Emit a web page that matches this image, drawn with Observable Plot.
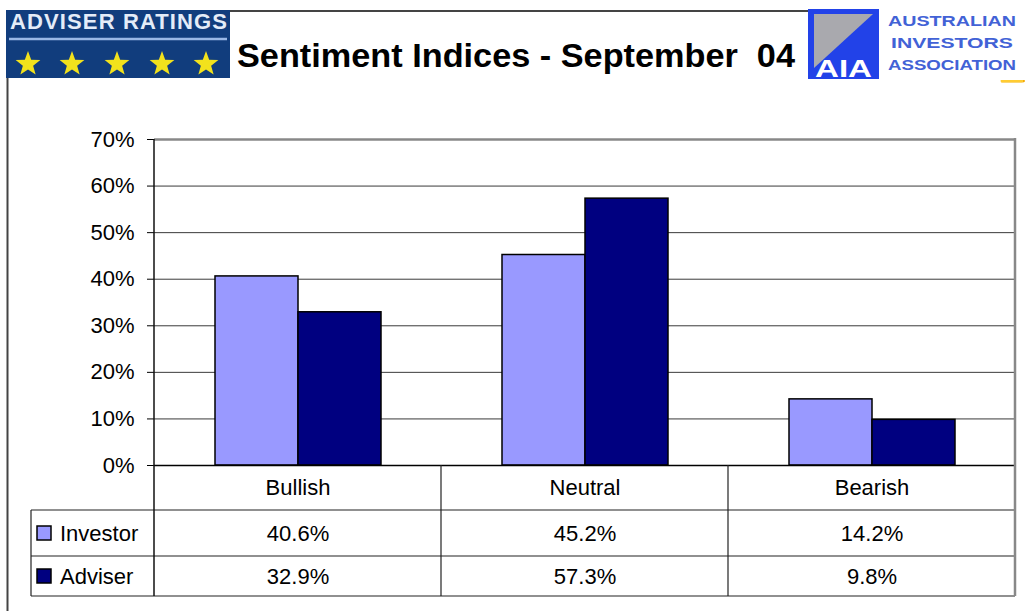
<!DOCTYPE html>
<html><head><meta charset="utf-8">
<script src="https://cdn.jsdelivr.net/npm/d3@7"></script>
<script src="https://cdn.jsdelivr.net/npm/@observablehq/plot@0.6"></script>
<style>
html,body{margin:0;padding:0;background:#fff;}
#wrap{position:relative;width:1026px;height:611px;font-family:"Liberation Sans",Arial,sans-serif;}
#chart{position:absolute;left:0;top:80px;}
#deco{position:absolute;left:0;top:0;pointer-events:none;}
</style></head>
<body><div id="wrap"><div id="chart"></div><svg id="deco" width="1026" height="611"></svg></div>
<script>
const categories = ["Bullish", "Neutral", "Bearish"];
const seriesNames = ["Investor", "Adviser"];
const investorValues = [0.406, 0.452, 0.142];
const adviserValues = [0.329, 0.573, 0.098];
const yTicks = [0, 0.1, 0.2, 0.3, 0.4, 0.5, 0.6, 0.7];
const seriesColors = ["#9999ff", "#000080"];
const titleText = "Sentiment Indices - September\u00a0 04";
const logoLeftText = "ADVISER RATINGS";
const logoRightLines = ["AUSTRALIAN", "INVESTORS", "ASSOCIATION"];
const logoMark = "AIA";

const rows = categories.flatMap((c, i) => [
  {category: c, series: seriesNames[0], value: investorValues[i]},
  {category: c, series: seriesNames[1], value: adviserValues[i]}
]);

const fmt = d3.format(".1%");
const TOP = 80;
const plot = Plot.plot({
  width: 1026, height: 531,
  marginLeft: 153, marginRight: 11, marginTop: 59, marginBottom: 146,
  style: {fontFamily: "Liberation Sans, Arial, sans-serif", fontSize: "22px", background: "transparent", color: "#000"},
  facet: {data: rows, x: "category"},
  fx: {domain: categories, padding: 0, axis: null, label: null},
  x: {domain: seriesNames, paddingInner: 0, paddingOuter: 0.71, axis: null},
  y: {domain: [0, 0.7], ticks: yTicks, tickFormat: d3.format(".0%"), tickSize: 7, tickPadding: 13, label: null},
  color: {domain: seriesNames, range: seriesColors},
  marks: [
    Plot.ruleY(yTicks.slice(1, -1), {stroke: "#3a3a3a", strokeWidth: 1}),
    Plot.barY(rows, {x: "series", y: "value", fill: "series", stroke: "#000", strokeWidth: 1.5}),
    Plot.ruleY([0], {stroke: "#000", strokeWidth: 1.5}),
    Plot.ruleY([0.7], {stroke: "#888", strokeWidth: 2.5}),
    Plot.text(rows, {filter: d => d.series === seriesNames[0], text: "category", frameAnchor: "bottom", lineAnchor: "middle", dy: 22}),
    Plot.text(rows, {filter: d => d.series === seriesNames[0], text: d => fmt(d.value), frameAnchor: "bottom", lineAnchor: "middle", dy: 68}),
    Plot.text(rows, {filter: d => d.series === seriesNames[1], text: d => fmt(d.value), frameAnchor: "bottom", lineAnchor: "middle", dy: 111})
  ]
});
document.getElementById("chart").appendChild(plot);

// structural lines, legend and header
const deco = d3.select("#deco");
const fx = plot.scale("fx"), ys = plot.scale("y");
const yTop = TOP + ys.apply(0.7), yBase = TOP + ys.apply(0);
const xLeft = fx.apply(categories[0]);
const xRight = fx.apply(categories[categories.length - 1]) + fx.bandwidth;
const r1 = yBase + 45, r2 = yBase + 91, r3 = yBase + 131;
const tableLeft = 31;
const line = (x1, y1, x2, y2, stroke, w) => deco.append("line").attr("x1", x1).attr("y1", y1).attr("x2", x2).attr("y2", y2).attr("stroke", stroke).attr("stroke-width", w);

[r1, r2, r3].forEach(r => line(tableLeft, r, xRight, r, "#222", 1.2));
line(tableLeft, r1, tableLeft, r3, "#222", 1.2);
line(xLeft, yTop, xLeft, r3, "#111", 1.5);
categories.slice(1).forEach(c => line(fx.apply(c), yBase, fx.apply(c), r3, "#222", 1.2));
line(xRight, yTop - 1, xRight, r3, "#888", 2.5);

// legend in table
[[(r1 + r2) / 2, 0], [(r2 + r3) / 2, 1]].forEach(([cy, i]) => {
  deco.append("rect").attr("x", 37).attr("y", cy - 7).attr("width", 14).attr("height", 14)
    .attr("fill", seriesColors[i]).attr("stroke", "#000").attr("stroke-width", 1.5);
  deco.append("text").attr("x", 60).attr("y", cy).attr("dy", "0.35em")
    .attr("font-family", "Liberation Sans, Arial, sans-serif").attr("font-size", 22).text(seriesNames[i]);
});

// outer frame
line(7.5, 78, 7.5, 611, "#444", 2);
line(230, 11, 808, 11, "#444", 2);

// left logo
deco.append("rect").attr("x", 6).attr("y", 10).attr("width", 224).attr("height", 68).attr("fill", "#113d7d");
deco.append("text").attr("x", 10).attr("y", 29).attr("font-family", "Liberation Sans, Arial, sans-serif")
  .attr("font-weight", "bold").attr("font-size", 22).attr("fill", "#e4ecf8")
  .attr("textLength", 217).attr("lengthAdjust", "spacing").text(logoLeftText);
line(9, 39, 227, 39, "#9ab8e6", 2.5);
const starPts = (cx, cy, R, r) => d3.range(10).map(k => {
  const a = -Math.PI / 2 + k * Math.PI / 5, rr = k % 2 ? r : R;
  return [cx + rr * Math.cos(a), cy + rr * Math.sin(a)].join(",");
}).join(" ");
[28, 72, 117, 162, 206].forEach(cx => deco.append("polygon").attr("points", starPts(cx, 64, 13, 5.4)).attr("fill", "#f2e21c"));

// title
deco.append("text").attr("x", 237).attr("y", 67).attr("font-family", "Liberation Sans, Arial, sans-serif")
  .attr("font-weight", "bold").attr("font-size", 34).attr("fill", "#000")
  .attr("textLength", 558).attr("lengthAdjust", "spacingAndGlyphs").text(titleText);

// right logo
deco.append("rect").attr("x", 808).attr("y", 9).attr("width", 71).attr("height", 70).attr("fill", "#2242e8");
deco.append("polygon").attr("points", "814,14 873,14 814,68").attr("fill", "#a9a9ae");
deco.append("text").attr("x", 815).attr("y", 77).attr("font-family", "Liberation Sans, Arial, sans-serif")
  .attr("font-weight", "bold").attr("font-size", 24).attr("fill", "#fff")
  .attr("textLength", 57).attr("lengthAdjust", "spacingAndGlyphs").text(logoMark);
[[888, 26, 128], [891, 48, 122], [888, 70, 128]].forEach(([x, y, L], i) => {
  deco.append("text").attr("x", x).attr("y", y).attr("font-family", "Liberation Sans, Arial, sans-serif")
    .attr("font-weight", "bold").attr("font-size", 15).attr("fill", "#4262d6")
    .attr("textLength", L).attr("lengthAdjust", "spacingAndGlyphs").text(logoRightLines[i]);
});
</script>
</body></html>
